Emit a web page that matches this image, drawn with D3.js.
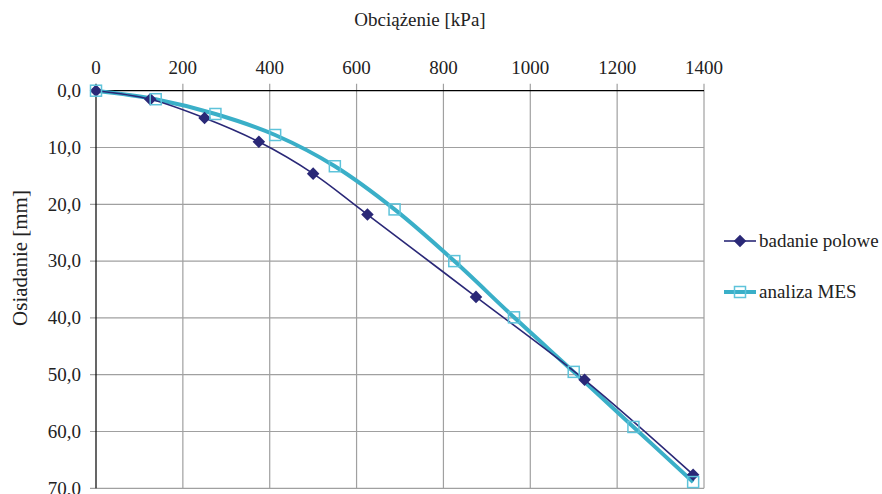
<!DOCTYPE html>
<html><head><meta charset="utf-8">
<script src="https://cdn.jsdelivr.net/npm/d3@7"></script>
<style>body{margin:0;background:#fff}svg{display:block}</style>
</head><body>
<script>
const xTicks = [0,200,400,600,800,1000,1200,1400];
const yTicks = [0,10,20,30,40,50,60,70];
const fieldX = [0,125,250,375,500,625,875,1125,1375];
const fieldY = [0,1.5,4.8,9.0,14.6,21.8,36.3,50.9,67.6];
const femX = [0,137.5,275,412.5,550,687.5,825,962.5,1100,1237.5,1375];
const femY = [0,1.5,4.1,7.8,13.3,20.9,30.0,39.9,49.5,59.2,68.9];
const seriesNames = ["badanie polowe","analiza MES"];
const xTitle = "Obciążenie [kPa]";
const yTitle = "Osiadanie [mm]";

const W=882,H=494;
const svg=d3.select("body").append("svg").attr("width",W).attr("height",H)
  .attr("font-family","'Liberation Serif','Times New Roman',serif");
const x=d3.scaleLinear().domain([0,1400]).range([96,704]);
const y=d3.scaleLinear().domain([0,70]).range([90.7,488.3]);

// grid
svg.append("g").selectAll("line").data(xTicks.slice(1)).join("line")
  .attr("x1",d=>x(d)).attr("x2",d=>x(d)).attr("y1",y(0)-7).attr("y2",y(70))
  .attr("stroke","#a0a0a0").attr("stroke-width",1.2);
svg.append("g").selectAll("line").data(yTicks.slice(1)).join("line")
  .attr("x1",x(0)-6).attr("x2",x(1400)).attr("y1",d=>y(d)).attr("y2",d=>y(d))
  .attr("stroke","#a0a0a0").attr("stroke-width",1.2);
// axes lines
svg.append("line").attr("x1",x(0)-6).attr("x2",x(1400)).attr("y1",y(0)).attr("y2",y(0)).attr("stroke","#000").attr("stroke-width",1.2);
svg.append("line").attr("x1",x(0)).attr("x2",x(0)).attr("y1",y(0)-7).attr("y2",y(70)).attr("stroke","#000").attr("stroke-width",1.2);

const tc="#222";
// tick labels
const fmt=d=>d.toFixed(1).replace(".",",");
svg.append("g").selectAll("text").data(xTicks).join("text")
  .attr("x",d=>x(d)).attr("y",74).attr("text-anchor","middle").attr("font-size",19).attr("fill",tc).text(d=>d);
svg.append("g").selectAll("text").data(yTicks).join("text")
  .attr("x",81).attr("y",d=>y(d)+6.3).attr("text-anchor","end").attr("font-size",19).attr("fill",tc).text(fmt);
svg.append("text").attr("x",420).attr("y",26).attr("text-anchor","middle").attr("font-size",19).attr("fill",tc).text(xTitle);
svg.append("text").attr("transform","translate(27,258) rotate(-90)").attr("text-anchor","middle").attr("font-size",21).attr("fill",tc).text(yTitle);

const navy="#2a2877", cyan="#3aafc8", sq="#5ec3da";
const line=d3.line().x(d=>x(d[0])).y(d=>y(d[1])).curve(d3.curveCardinal.tension(0));
const field=fieldX.map((v,i)=>[v,fieldY[i]]);
const fem=femX.map((v,i)=>[v,femY[i]]);
svg.append("path").datum(fem).attr("d",line).attr("fill","none").attr("stroke",cyan).attr("stroke-width",4);
svg.append("path").datum(field).attr("d",line).attr("fill","none").attr("stroke",navy).attr("stroke-width",1.6);
const diamond=d3.symbol().type(d3.symbolDiamond2).size(100);
svg.append("g").selectAll("path").data(field).join("path")
  .attr("transform",d=>`translate(${x(d[0])},${y(d[1])})`).attr("d",diamond).attr("fill",navy);
svg.append("g").selectAll("rect").data(fem).join("rect")
  .attr("x",d=>x(d[0])-5.5).attr("y",d=>y(d[1])-5.5).attr("width",11).attr("height",11)
  .attr("fill","none").attr("stroke",sq).attr("stroke-width",1.5);

// legend
const lg=svg.append("g");
lg.append("line").attr("x1",724).attr("x2",756).attr("y1",241).attr("y2",241).attr("stroke",navy).attr("stroke-width",1.6);
lg.append("path").attr("transform","translate(740,241)").attr("d",diamond).attr("fill",navy);
lg.append("text").attr("x",759).attr("y",247).attr("font-size",19).attr("fill",tc).text(seriesNames[0]);
lg.append("line").attr("x1",724).attr("x2",756).attr("y1",292).attr("y2",292).attr("stroke",cyan).attr("stroke-width",4);
lg.append("rect").attr("x",734.5).attr("y",286.5).attr("width",11).attr("height",11).attr("fill","none").attr("stroke",sq).attr("stroke-width",1.5);
lg.append("text").attr("x",759).attr("y",298).attr("font-size",19).attr("fill",tc).text(seriesNames[1]);
</script>
</body></html>
